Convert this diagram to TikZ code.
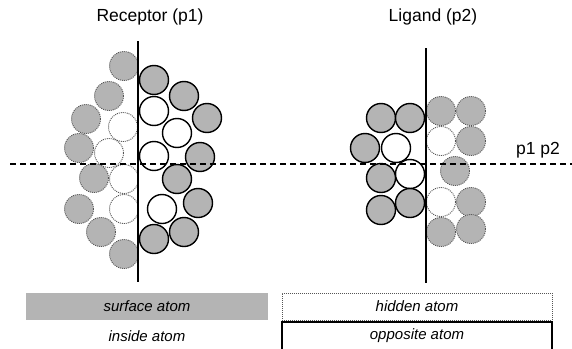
\documentclass[tikz,border=0pt]{standalone}
\usepackage{fontspec}
\setmainfont{Liberation Sans}
\definecolor{atomgray}{RGB}{180,180,180}
\definecolor{dotgray}{RGB}{85,85,85}
\tikzset{
  atom/.style={circle, minimum size=29pt, inner sep=0pt},
  surf/.style={atom, fill=atomgray, draw=black, line width=1.4pt},
  opp/.style={atom, fill=white, draw=black, line width=1.4pt},
  hid/.style={atom, fill=atomgray, draw=dotgray, line width=0.9pt, dash pattern=on 1pt off 1pt},
  hidw/.style={atom, fill=white, draw=dotgray, line width=0.9pt, dash pattern=on 1pt off 1pt},
  title/.style={font=\fontsize{17.5pt}{20pt}\selectfont},
  legend/.style={font=\fontsize{15pt}{18pt}\selectfont\itshape},
}
\begin{document}
\begin{tikzpicture}[x=1pt,y=-1pt]
\useasboundingbox (0,0) rectangle (572,348);
% Receptor left (dotted)
\node[hid]  (r1) at (124,66) {};
\node[hid]  (r2) at (109,96) {};
\node[hid]  (r3) at (86,119) {};
\node[hidw] (r4) at (123,127) {};
\node[hid]  (r5) at (79,148) {};
\node[hidw] (r6) at (109,153) {};
\node[hid]  (r7) at (94,178) {};
\node[hidw] (r8) at (124,179) {};
\node[hid]  (r9) at (79,209) {};
\node[hidw] (r10) at (124,209) {};
\node[hid]  (r11) at (101,232) {};
\node[hid]  (r12) at (124,254) {};
% Receptor right (solid)
\node[surf] (r13) at (154,80) {};
\node[surf] (r14) at (184,96) {};
\node[opp]  (r15) at (154,111) {};
\node[surf] (r16) at (207,118) {};
\node[opp]  (r17) at (177,133) {};
\node[opp]  (r18) at (154,156) {};
\node[surf] (r19) at (200,157) {};
\node[surf] (r20) at (177,179) {};
\node[surf] (r21) at (198,203) {};
\node[opp]  (r22) at (162,209) {};
\node[surf] (r23) at (184,232) {};
\node[surf] (r24) at (154,239) {};
% Ligand left (solid)
\node[surf] (l1) at (381,118) {};
\node[surf] (l2) at (410,118) {};
\node[surf] (l3) at (365,148) {};
\node[opp]  (l4) at (396,148) {};
\node[surf] (l5) at (381,178) {};
\node[opp]  (l6) at (410,174) {};
\node[surf] (l7) at (381,210) {};
\node[surf] (l8) at (410,203) {};
% Ligand right (dotted)
\node[hid]  (l9) at (441,111) {};
\node[hid]  (l10) at (471,111) {};
\node[hidw] (l11) at (441,141) {};
\node[hid]  (l12) at (471,141) {};
\node[hid]  (l13) at (455,171) {};
\node[hidw] (l14) at (441,202) {};
\node[hid]  (l15) at (471,202) {};
\node[hid]  (l16) at (441,232) {};
\node[hid]  (l17) at (471,229) {};
% axes
\coordinate (rt) at (138,41);
\coordinate (rb) at (138,282);
\coordinate (lt) at (426,48);
\coordinate (lb) at (426,283);
\coordinate (hl) at (10,164);
\coordinate (hr) at (572,164);
\draw[line width=1.3pt] (rt) -- (rb);
\draw[line width=1.3pt] (lt) -- (lb);
\draw[line width=1.3pt, dash pattern=on 6pt off 4pt] (hl) -- (hr);
% titles
\node[title] (t1) at (150,17) {Receptor (p1)};
\node[title] (t2) at (433,17) {Ligand (p2)};
\node[title] (t3) at (538,150) {p1 p2};
% legend
\node[legend, fill=atomgray, minimum width=242pt, minimum height=27pt, inner sep=0pt] (g1) at (147,306.5) {surface atom};
\node[legend] (g2) at (147,336) {inside atom};
\node[legend, draw=dotgray, line width=0.9pt, dash pattern=on 1pt off 1pt, minimum width=270pt, minimum height=27pt, inner sep=0pt] (g3) at (417,306.5) {hidden atom};
\node[legend, draw=black, line width=1.2pt, minimum width=270pt, minimum height=28pt, inner sep=0pt] (g4) at (417,336) {opposite atom};
\end{tikzpicture}
\end{document}
